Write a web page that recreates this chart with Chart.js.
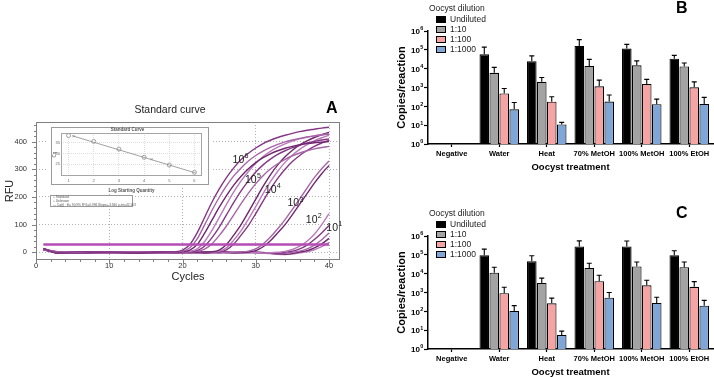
<!DOCTYPE html>
<html>
<head>
<meta charset="utf-8">
<script src="https://cdn.jsdelivr.net/npm/chart.js@4.4.1/dist/chart.umd.min.js"></script>
<style>
  html, body { margin: 0; padding: 0; background: #fff; }
  body { width: 714px; height: 377px; position: relative; overflow: hidden; font-family: 'Liberation Sans', Arial, sans-serif; }
  canvas { position: absolute; }
  .letter { position: absolute; font-weight: bold; font-size: 16px; line-height: 16px; color: #000; }
  .lg-title { position: absolute; font-size: 8.5px; line-height: 10px; color: #222; white-space: nowrap; }
  .lg-row { position: absolute; font-size: 8.5px; line-height: 10px; color: #222; white-space: nowrap; }
  .lg-row i { position: absolute; left: -14px; top: 2px; width: 8px; height: 5px; border: 1px solid #000; }
  .inset-legend { position: absolute; left: 50px; top: 195px; width: 83px; height: 12px; border: 1px solid #999; background: #fff;
                  font-size: 3.2px; line-height: 3.8px; color: #555; padding: 0 2px; box-sizing: border-box; white-space: nowrap; }
</style>
</head>
<body>
<canvas id="chartA" width="374" height="185" style="left:0;top:100px;width:374px;height:185px"></canvas>
<canvas id="inset" width="164" height="72" style="left:48px;top:124px;width:164px;height:72px"></canvas>
<div class="inset-legend">&#9675; Standard<br>&#9675; Unknown<br>— Cq(t) · E= 90.9% R^2=0.996 Slope=-3.560 y-int=42.163</div>
<canvas id="chartB" width="322" height="172" style="left:392px;top:0;width:322px;height:172px"></canvas>
<canvas id="chartC" width="322" height="172" style="left:392px;top:205px;width:322px;height:172px"></canvas>
<div class="letter" style="left:326px;top:100px">A</div>
<div class="letter" style="left:676px;top:0">B</div>
<div class="letter" style="left:676px;top:205px">C</div>

<script>
const FONT = "'Liberation Sans', Arial, sans-serif";

// ---- Panel A: amplification curves (RFU per cycle) ----
const CYCLES = [1, 3, 6, 10, 14, 17, 19, 20, 21, 22, 23, 24, 25, 26, 27, 28, 29, 30, 31, 32, 33, 34, 35, 36, 37, 38, 39, 40];

const RFU_1E6 = [
  [12, -2, -3, 1, -2, 0, 2, 8, 28, 70, 125, 180, 228, 270, 305, 335, 358, 377, 393, 405, 415, 423, 430, 436, 441, 445, 449, 452],
  [10, 1, -1, -3, 1, -2, 1, 4, 16, 48, 98, 150, 198, 240, 276, 305, 330, 350, 366, 379, 390, 399, 406, 412, 417, 421, 424, 427],
  [14, -3, 1, -1, -3, 0, 0, 2, 8, 28, 68, 115, 162, 205, 243, 275, 302, 324, 342, 356, 367, 376, 383, 389, 393, 396, 398, 400]
];
const RFU_1E5 = [
  [11, -1, -2, 1, -1, -2, 0, 1, 3, 12, 38, 78, 125, 173, 218, 258, 292, 322, 346, 365, 380, 392, 402, 410, 416, 421, 425, 428],
  [9, 2, -1, -2, 1, -1, -2, 0, 2, 6, 22, 52, 90, 135, 180, 222, 258, 290, 316, 337, 354, 367, 378, 387, 395, 401, 406, 410],
  [13, -3, 1, -1, -2, 1, 0, -1, 1, 3, 11, 30, 60, 95, 135, 176, 214, 248, 277, 301, 320, 336, 349, 359, 367, 374, 379, 383]
];
const RFU_1E4 = [
  [10, -1, -2, 0, 1, -2, 0, 0, -1, 0, 1, 2, 8, 28, 62, 100, 145, 192, 238, 280, 316, 345, 369, 388, 403, 415, 425, 433],
  [12, 1, -1, -3, 0, -1, -2, 0, 0, -2, 0, 1, 4, 16, 44, 78, 120, 165, 212, 255, 293, 325, 351, 372, 389, 403, 414, 423],
  [9, -2, 1, -1, -2, 0, -1, -2, 0, -1, -2, 0, 2, 9, 30, 62, 97, 140, 185, 228, 267, 300, 328, 350, 368, 383, 395, 405]
];
const RFU_1E3 = [
  [11, -1, -2, 1, -1, -3, 0, 1, -1, -2, 0, 1, -1, -2, 0, 1, 4, 12, 30, 55, 85, 118, 155, 193, 232, 270, 302, 330],
  [13, 1, -1, -2, 1, -1, -2, 0, 1, -1, -2, 0, 1, -1, -2, 0, 1, 6, 20, 42, 70, 100, 136, 174, 212, 250, 284, 314]
];
const RFU_1E2 = [
  [10, -1, 1, -2, -1, 1, -1, -2, 0, 1, -1, -2, 0, -1, 1, -1, -2, -1, -3, -2, 0, 3, 10, 22, 40, 65, 100, 140],
  [12, -2, -1, 1, -2, -1, 1, -1, -2, 0, 1, -1, -2, 0, -1, -2, -1, 1, -1, -3, -4, 0, 4, 12, 26, 46, 70, 97]
];
const RFU_1E1 = [
  [9, 1, -2, -1, 1, -2, 0, 1, -1, -2, 0, -1, 1, 0, -2, 0, -1, -2, -3, -4, -5, -4, 0, 4, 12, 26, 45, 70],
  [11, -1, 0, -2, 0, 1, -2, 0, 1, -1, -2, 0, -1, 1, 0, -2, 0, -1, -2, -4, -6, -7, -5, 1, 6, 16, 30, 50],
  [10, -2, 1, -1, -2, 0, 1, -2, 0, 1, -1, -2, 0, -1, -2, 1, 0, -2, -3, -5, -7, -8, -6, -2, 2, 9, 20, 36]
];
const THRESHOLD_RFU = 28;
const THRESHOLD_CYCLES = [1, 40];
const X_TICKS_A = [0, 10, 20, 30, 40];
const Y_TICKS_A = [0, 100, 200, 300, 400];
// dilution labels (powers of ten), anchored in data coordinates (cycle, RFU)
const CURVE_EXPONENTS = [6, 5, 4, 3, 2, 1];
const CURVE_LABEL_CYCLE = [27.9, 29.6, 32.3, 35.4, 37.9, 40.7];
const CURVE_LABEL_RFU = [333, 260, 224, 176, 116, 86];

// ---- Inset: standard curve ----
const LOG_QTY = [1, 2, 3, 4, 5, 6];
const STD_CQ = [38.3, 35.6, 32.0, 28.2, 24.6, 21.2];
const UNK_QTY = [1.2, 4.3];
const UNK_CQ = [38.0, 27.3];
const FIT_QTY = [1.15, 6.05];
const FIT_CQ = [38.2, 20.9];
const INSET_Y_TICKS = [25, 30, 35];

// ---- Panels B and C: copies per reaction ----
const TREATMENTS = ['Negative', 'Water', 'Heat', '70% MetOH', '100% MetOH', '100% EtOH'];
const DILUTIONS = ['Undiluted', '1:10', '1:100', '1:1000'];
const BAR_COLORS = ['#000000', '#a3a3a3', '#f5a3a3', '#7fa6d6'];
const Y_DECADES = [1, 10, 100, 1e3, 1e4, 1e5, 1e6];

const B_MEAN = [
  [null, 5.8e4, 2.5e4, 1.6e5, 1.17e5, 3.4e4],
  [null, 6.0e3, 2.0e3, 1.4e4, 1.5e4, 1.3e4],
  [null, 480, 175, 1150, 1550, 1020],
  [null, 69, 11, 180, 130, 135]
];
const B_TOP = [
  [null, 1.4e5, 4.8e4, 3.5e5, 1.95e5, 5.1e4],
  [null, 1.17e4, 3.4e3, 3.1e4, 2.6e4, 2.0e4],
  [null, 890, 320, 2450, 2700, 2000],
  [null, 160, 14, 400, 240, 300]
];
const C_MEAN = [
  [null, 9.5e4, 4.5e4, 2.8e5, 2.8e5, 9.5e4],
  [null, 1.12e4, 3.2e3, 2.0e4, 2.4e4, 2.2e4],
  [null, 910, 265, 4.0e3, 2.4e3, 2.0e3],
  [null, 105, 5.5, 525, 280, 200]
];
const C_TOP = [
  [null, 2.0e5, 8.9e4, 5.5e5, 5.4e5, 1.66e5],
  [null, 2.2e4, 5.8e3, 3.6e4, 4.2e4, 4.2e4],
  [null, 1.9e3, 500, 8.3e3, 4.5e3, 3.8e3],
  [null, 200, 8.9, 1.0e3, 560, 380]
];

// draws "10" with a raised exponent; x is the right edge (align 'right') or centre
function drawPow(ctx, exp, x, y, size, weight, align) {
  const e = String(exp);
  const supSize = size * 0.68;
  ctx.font = weight + ' ' + supSize + 'px ' + FONT;
  const ew = ctx.measureText(e).width;
  ctx.font = weight + ' ' + size + 'px ' + FONT;
  const bw = ctx.measureText('10').width;
  const left = align === 'right' ? x - bw - ew : x - (bw + ew) / 2;
  ctx.textAlign = 'left';
  ctx.textBaseline = 'middle';
  ctx.fillText('10', left, y);
  ctx.font = weight + ' ' + supSize + 'px ' + FONT;
  ctx.fillText(e, left + bw + 0.3, y - size * 0.38);
}

// ================= Panel A =================
const CURVE_COLORS = ['#853785', '#a765a7', '#70266f', '#b97bb9'];

const curveSets = [RFU_1E6, RFU_1E5, RFU_1E4, RFU_1E3, RFU_1E2, RFU_1E1];
const dsA = [{
  data: THRESHOLD_CYCLES.map(c => ({ x: c, y: THRESHOLD_RFU })),
  borderColor: '#b44db4',
  borderWidth: 2.5,
  pointRadius: 0,
  showLine: true
}];
let k = 0;
curveSets.forEach(group => {
  group.forEach(curve => {
    dsA.push({
      data: CYCLES.map((c, i) => ({ x: c, y: curve[i] })),
      borderColor: CURVE_COLORS[k % CURVE_COLORS.length],
      borderWidth: 1.4,
      pointRadius: 0,
      showLine: true,
      cubicInterpolationMode: 'monotone'
    });
    k++;
  });
});

// frame, tick marks and curve labels for panel A
const frameA = {
  id: 'frameA',
  afterDraw(chart) {
    const { ctx, chartArea: a, scales: { x, y } } = chart;
    ctx.save();
    ctx.strokeStyle = '#808080';
    ctx.lineWidth = 1;
    ctx.strokeRect(a.left + 0.5, a.top + 0.5, a.right - a.left - 1, a.bottom - a.top - 1);
    ctx.beginPath();
    for (let v = 0; v <= 40; v += 2) {
      const px = Math.round(x.getPixelForValue(v)) + 0.5;
      ctx.moveTo(px, a.bottom);
      ctx.lineTo(px, a.bottom + (v % 10 === 0 ? 4 : 2));
    }
    for (let v = 0; v <= 460; v += 20) {
      const py = Math.round(y.getPixelForValue(v)) + 0.5;
      ctx.moveTo(a.left, py);
      ctx.lineTo(a.left - (v % 100 === 0 ? 4 : 2), py);
    }
    ctx.stroke();
    ctx.fillStyle = '#222';
    CURVE_EXPONENTS.forEach((e, i) => {
      drawPow(ctx, e, x.getPixelForValue(CURVE_LABEL_CYCLE[i]), y.getPixelForValue(CURVE_LABEL_RFU[i]), 10.5, 'normal', 'center');
    });
    ctx.restore();
  }
};

new Chart(document.getElementById('chartA'), {
  type: 'scatter',
  data: { datasets: dsA },
  plugins: [frameA],
  options: {
    animation: false,
    responsive: false,
    layout: { padding: { top: 0, right: 34, bottom: 0, left: 0 } },
    plugins: {
      legend: { display: false },
      tooltip: { enabled: false },
      title: {
        display: true,
        text: 'Standard curve',
        color: '#222',
        font: { family: FONT, size: 10.5, weight: 'normal' },
        padding: { top: 4, bottom: 5.4 }
      }
    },
    scales: {
      x: {
        type: 'linear',
        min: 0,
        max: 41.5,
        afterBuildTicks: s => { s.ticks = X_TICKS_A.map(v => ({ value: v })); },
        afterFit: s => { s.height = 25; },
        grid: { color: '#b0b0b0', drawTicks: false },
        border: { display: false, dash: [1, 2] },
        ticks: { color: '#333', font: { family: FONT, size: 7.5 }, padding: 1, maxRotation: 0 },
        title: { display: true, text: 'Cycles', color: '#222', font: { family: FONT, size: 11, lineHeight: 1 }, padding: { top: 0, bottom: 2.5 } }
      },
      y: {
        min: -28,
        max: 471,
        afterBuildTicks: s => { s.ticks = Y_TICKS_A.map(v => ({ value: v })); },
        afterFit: s => { s.width = 36; },
        grid: { color: '#b0b0b0', drawTicks: false },
        border: { display: false, dash: [1, 2] },
        ticks: { color: '#333', font: { family: FONT, size: 7.5 }, padding: 9 },
        title: { display: true, text: 'RFU', color: '#222', font: { family: FONT, size: 11, lineHeight: 1 }, padding: { top: 4.5, bottom: 0 } }
      }
    }
  }
});

// ================= Inset =================
const insetBg = {
  id: 'insetBg',
  beforeDraw(chart) {
    const { ctx, width } = chart;
    ctx.save();
    ctx.fillStyle = '#fff';
    ctx.fillRect(0, 0, width, 62);
    ctx.strokeStyle = '#9a9a9a';
    ctx.lineWidth = 1;
    ctx.strokeRect(3.5, 3.5, width - 7, 57);
    ctx.restore();
  },
  afterDraw(chart) {
    const { ctx, chartArea: a } = chart;
    ctx.save();
    ctx.strokeStyle = '#a5a5a5';
    ctx.strokeRect(a.left + 0.5, a.top + 0.5, a.right - a.left - 1, a.bottom - a.top - 1);
    ctx.restore();
  }
};

new Chart(document.getElementById('inset'), {
  type: 'scatter',
  data: {
    datasets: [
      {
        data: FIT_QTY.map((q, i) => ({ x: q, y: FIT_CQ[i] })),
        showLine: true, borderColor: '#8a8a8a', borderWidth: 0.8, pointRadius: 0
      },
      {
        data: LOG_QTY.map((q, i) => ({ x: q, y: STD_CQ[i] })),
        pointStyle: 'circle', pointRadius: 2, borderColor: '#8a8a8a', borderWidth: 0.8, backgroundColor: '#fff'
      },
      {
        data: UNK_QTY.map((q, i) => ({ x: q, y: UNK_CQ[i] })),
        pointStyle: 'crossRot', pointRadius: 1.5, borderColor: '#8a8a8a', borderWidth: 0.7
      }
    ]
  },
  plugins: [insetBg],
  options: {
    animation: false,
    responsive: false,
    layout: { padding: { top: 0, right: 10, bottom: 0, left: 5 } },
    plugins: {
      legend: { display: false },
      tooltip: { enabled: false },
      title: { display: true, text: 'Standard Curve', color: '#555', font: { family: FONT, size: 4.5, weight: 'bold' }, padding: { top: 3, bottom: 0.6 } }
    },
    scales: {
      x: {
        type: 'linear', min: 0.7, max: 6.3,
        afterBuildTicks: s => { s.ticks = LOG_QTY.map(v => ({ value: v })); },
        afterFit: s => { s.height = 20; },
        grid: { color: '#dddddd', drawTicks: false },
        border: { display: false, dash: [1, 1] },
        ticks: { color: '#666', font: { family: FONT, size: 4 }, padding: 2 },
        title: { display: true, text: 'Log Starting Quantity', color: '#555', font: { family: FONT, size: 4.5, weight: 'bold', lineHeight: 1 }, padding: { top: 0, bottom: 3 } }
      },
      y: {
        min: 19.5, max: 39.5,
        afterBuildTicks: s => { s.ticks = INSET_Y_TICKS.map(v => ({ value: v })); },
        afterFit: s => { s.width = 8; },
        grid: { color: '#dddddd', drawTicks: false },
        border: { display: false, dash: [1, 1] },
        ticks: { color: '#666', font: { family: FONT, size: 4 }, padding: 1 },
        title: { display: true, text: 'Cq', color: '#555', font: { family: FONT, size: 4.5, lineHeight: 1 }, padding: { top: 0, bottom: 0 } }
      }
    }
  }
});

// ================= Panels B and C =================
const errorBars = {
  id: 'errorBars',
  afterDatasetsDraw(chart) {
    const { ctx, scales: { y } } = chart;
    ctx.save();
    ctx.strokeStyle = '#000';
    ctx.lineWidth = 1.1;
    chart.data.datasets.forEach((ds, i) => {
      chart.getDatasetMeta(i).data.forEach((bar, j) => {
        if (ds.data[j] == null || ds.errTop[j] == null) return;
        const yTop = y.getPixelForValue(ds.errTop[j]);
        ctx.beginPath();
        ctx.moveTo(bar.x, bar.y);
        ctx.lineTo(bar.x, yTop);
        ctx.moveTo(bar.x - 2.5, yTop);
        ctx.lineTo(bar.x + 2.5, yTop);
        ctx.stroke();
      });
    });
    ctx.restore();
  }
};

// log-axis labels written as 10 with a superscript exponent
const powTicks = {
  id: 'powTicks',
  afterDraw(chart) {
    const { ctx, scales: { y } } = chart;
    ctx.save();
    ctx.fillStyle = '#000';
    Y_DECADES.forEach(v => {
      drawPow(ctx, Math.round(Math.log10(v)), y.right - 5, y.getPixelForValue(v) + 1, 8, 'bold', 'right');
    });
    ctx.restore();
  }
};

function makeBarChart(id, means, tops) {
  new Chart(document.getElementById(id), {
    type: 'bar',
    data: {
      labels: TREATMENTS,
      datasets: DILUTIONS.map((name, d) => ({
        label: name,
        data: means[d],
        errTop: tops[d],
        backgroundColor: BAR_COLORS[d],
        borderColor: '#000',
        borderWidth: 1.1,
        categoryPercentage: 0.84,
        barPercentage: 0.96
      }))
    },
    plugins: [errorBars, powTicks],
    options: {
      animation: false,
      responsive: false,
      layout: { padding: { top: 31, right: 1, bottom: 0, left: 0 } },
      plugins: { legend: { display: false }, tooltip: { enabled: false } },
      scales: {
        x: {
          type: 'category',
          offset: true,
          afterFit: s => { s.height = 28; },
          grid: { offset: false, drawOnChartArea: false, tickLength: 3, tickColor: '#000', tickWidth: 1.2 },
          border: { color: '#000', width: 1.5 },
          ticks: { color: '#000', font: { family: FONT, size: 7.5, weight: 'bold' }, padding: 2, maxRotation: 0, autoSkip: false },
          title: { display: true, text: 'Oocyst treatment', color: '#000', font: { family: FONT, size: 9.5, weight: 'bold', lineHeight: 1 }, padding: { top: 0, bottom: 0 } }
        },
        y: {
          type: 'logarithmic',
          min: 1,
          max: 1e6,
          afterBuildTicks: s => { s.ticks = Y_DECADES.map(v => ({ value: v, major: true })); },
          afterFit: s => { s.width = 36; },
          grid: { drawOnChartArea: false, tickLength: 4, tickColor: '#000', tickWidth: 1.2 },
          border: { color: '#000', width: 1.5 },
          ticks: { display: false },
          title: { display: true, text: 'Copies/reaction', color: '#000', font: { family: FONT, size: 11, weight: 'bold', lineHeight: 1.1 } }
        }
      }
    }
  });
}

makeBarChart('chartB', B_MEAN, B_TOP);
makeBarChart('chartC', C_MEAN, C_TOP);

// HTML legends for B and C
function addLegend(top) {
  const t = document.createElement('div');
  t.className = 'lg-title';
  t.style.left = '429px';
  t.style.top = (top + 3) + 'px';
  t.textContent = 'Oocyst dilution';
  document.body.appendChild(t);
  DILUTIONS.forEach((name, d) => {
    const r = document.createElement('div');
    r.className = 'lg-row';
    r.style.left = '450px';
    r.style.top = (top + 14 + d * 10) + 'px';
    const sw = document.createElement('i');
    sw.style.background = BAR_COLORS[d];
    r.appendChild(sw);
    r.appendChild(document.createTextNode(name));
    document.body.appendChild(r);
  });
}
addLegend(0);
addLegend(205);
</script>
</body>
</html>
